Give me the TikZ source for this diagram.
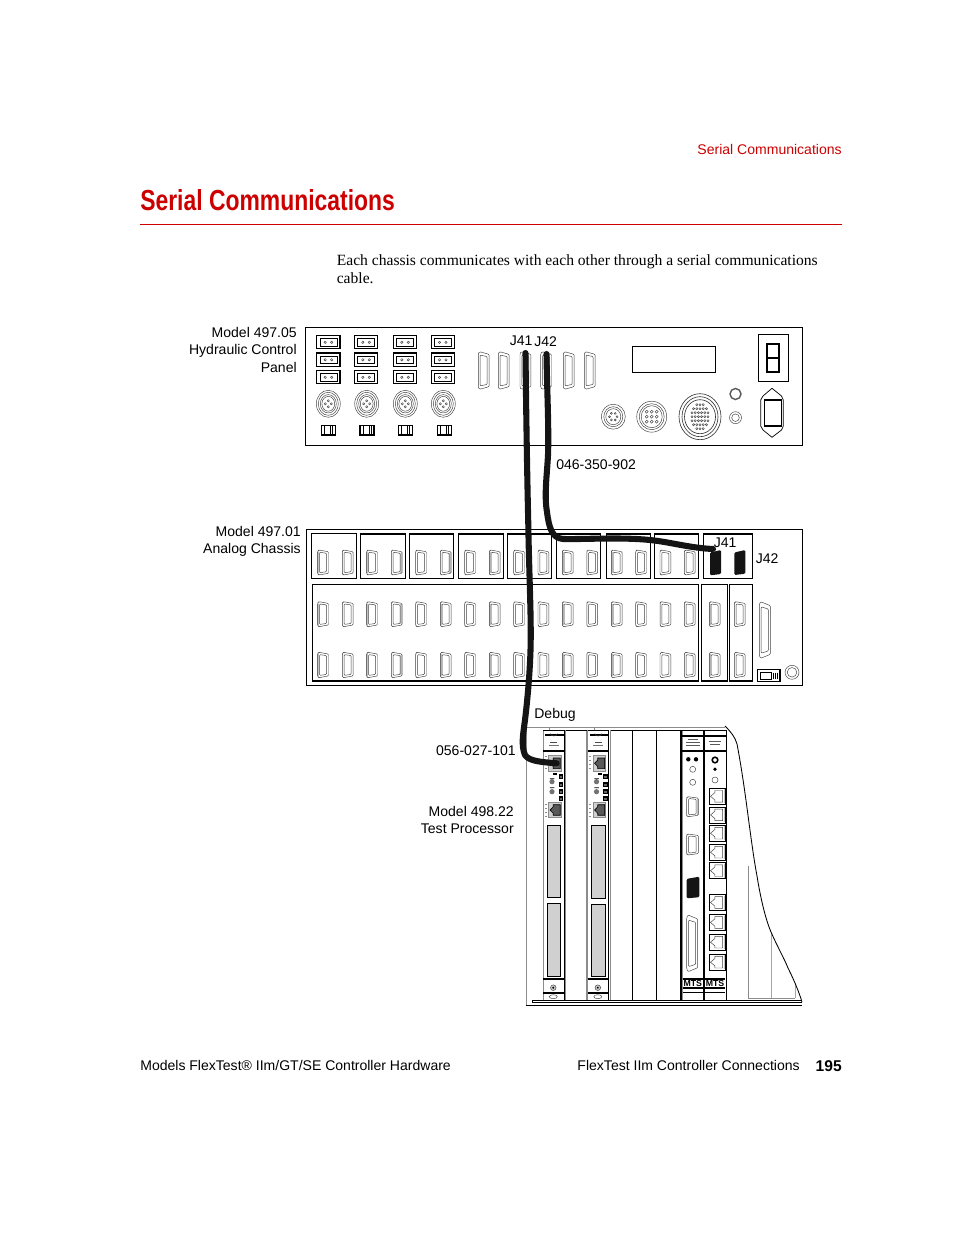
\documentclass[tikz,border=0pt]{standalone}
\usepackage{fontspec}
\setmainfont{Liberation Sans}
\newfontfamily\bodyfont{Liberation Serif}
\newfontfamily\titlefont[FakeStretch=0.79]{Liberation Sans}
\definecolor{mtsred}{HTML}{CC0000}
\definecolor{lg}{HTML}{C4C4C4}
\definecolor{pg}{HTML}{D0D0D0}
\tikzset{
  lab/.style={inner sep=0pt,font=\fontsize{9}{10.5}\selectfont},
  labr/.style={lab,anchor=base east},
  labl/.style={lab,anchor=base west},
  box/.style={draw=black,line width=0.65pt},
  thin box/.style={draw=black,line width=0.45pt},
  fine/.style={draw=black!75,line width=0.3pt},
  cable/.style={draw=black!92,line width=3.9pt,line cap=round,line join=round},
  bar/.style={draw=black,line width=1.2pt},
  edge gray/.style={draw=black!45,line width=0.5pt}
}
% D-sub connector: x y w h shade(0 none,1 left,2 right) fill
\newcommand{\dsubc}[5]{%
\begin{scope}[shift={(#1,#2)},xscale=#3,yscale=#4]
\ifnum#5=1 \draw[lg,line width=1.1pt] (0.04,0.08)--(0.04,0.92);\fi
\ifnum#5=2 \draw[lg,line width=1.1pt] (0.92,0.1)--(0.92,0.9);\fi
\draw[fine,rounded corners=0.6pt] (0,0.05)--(0.12,0)--(1,0.07)--(1,0.93)--(0.12,1)--(0,0.95)--cycle;
\draw[fine,rounded corners=0.6pt] (0.17,0.09)--(0.82,0.13)--(0.82,0.87)--(0.17,0.91)--cycle;
\end{scope}}
\newcommand{\dsubblack}[4]{%
\begin{scope}[shift={(#1,#2)},xscale=#3,yscale=#4]
\fill[black!92,rounded corners=0.8pt] (0,0.1)--(1,0)--(1,0.95)--(0,1)--cycle;
\end{scope}}
% terminal block
\newcommand{\termb}[2]{%
\begin{scope}[shift={(#1,#2)}]
\draw[box] (0,0) rectangle (23.3,13.3);
\draw[thin box] (3.3,3) rectangle (20.3,10.7);
\draw[fine] (8.5,6.8) circle (1.2) (15,6.8) circle (1.2);
\end{scope}}
% round connector
\newcommand{\roundc}[2]{%
\begin{scope}[shift={(#1,#2)}]
\draw[fine] (0,0) ellipse (12 and 13.5);
\draw[fine] (0,0) ellipse (10 and 11.5);
\draw[fine] (0,0) ellipse (8 and 9.2);
\draw[fine] (0,0) ellipse (6.4 and 7.4);
\foreach \a in {0,90,180,270} \draw[fine] (\a:3) circle (1.1);
\end{scope}}
% small switch
\newcommand{\swc}[2]{%
\begin{scope}[shift={(#1,#2)}]
\draw[draw=black,line width=0.9pt] (0,0) rectangle (14,9.5);
\draw[thin box] (3.3,0) -- (3.3,9.5) (9,0)--(9,9.5) (11.3,0)--(11.3,9.5);
\end{scope}}
% jack in the right-hand module
\newcommand{\rjbox}[3]{%
\begin{scope}[shift={(#1,#2)},yscale=#3]
\draw[lg,line width=1.2pt] (15.2,1)--(15.2,15);
\draw[thin box] (0,0) rectangle (15.7,16);
\draw[fine] (13.4,2.2)--(5.5,2.2)--(5.5,4.4)--(1.2,8)--(5.5,11.6)--(5.5,13.8)--(13.4,13.8)--cycle;
\end{scope}}
% gray jack in processors
\newcommand{\rjgray}[2]{%
\begin{scope}[shift={(#1,#2)}]
\fill[black!45] (0,0) rectangle (13.4,16.6);
\fill[pg] (1,1) rectangle (12.4,15.6);
\draw[fill=black!65,draw=black,line width=0.4pt] (12,3)--(5,3)--(5,5)--(1.8,8.3)--(5,11.6)--(5,13.6)--(12,13.6)--cycle;
\end{scope}}
% processor module
\newcommand{\procm}[2]{%
\begin{scope}[shift={(#1,0)}]
\draw[edge gray] (0,730)--(0,1000);
\draw[draw=black,line width=0.75pt] (21,730)--(21,1000);
\draw[draw=black,line width=0.5pt] (0,730)--(21,730);
\draw[bar] (2,735.3)--(21,735.3);
\draw[fine] (7,733.5) arc (180:0:3.5 and 2.5);
\draw[line width=0.55pt,black!70] (7,742.5)--(14,742.5);
\draw[line width=0.4pt,black!55] (5.5,745.5)--(15.5,745.5);
\draw[bar] (0,751.3)--(21,751.3);
\rjgray{5}{755}
\rjgray{5}{801.7}
\fill[black] (10,773.3) rectangle (14,774.6);
\fill[black!55] (8.7,781.7) circle (2.6) (8.7,791.7) circle (2.6);
\fill[black] (6.5,778.3) rectangle (11,779.2) (6.5,787.3) rectangle (11,788.1);
\foreach \yy in {775,783,790,797} \draw[draw=black,fill=black!60,line width=0.7pt] (16,\yy) rectangle (19.5,\yy+3.5);
\foreach \yy in {756,760,764,768,804,808,812,816} \draw[black!45,line width=0.4pt] (1.6,\yy)--(3.4,\yy);
\draw[thin box,fill=pg] (4,825.7) rectangle (17.5,#2);
\draw[thin box,fill=pg] (4,#2+6) rectangle (17.5,976);
\draw[draw=black,line width=1.5pt] (0,978.7)--(21,978.7);
\draw[bar] (0,993)--(21,993);
\draw[fine,fill=black!20] (10,987.7) circle (2.8);
\fill[black] (10,987.7) circle (1.1);
\draw[fine] (10,996.7) ellipse (4 and 2);
\end{scope}}
\newcommand{\mtsbadge}[2]{%
\draw[bar,line width=1.5pt] (#1,978.7)--(#1+20,978.7);
\draw[bar,line width=1.5pt] (#1,987.7)--(#1+20,987.7);
\node[inner sep=0pt,font=\fontsize{5.6}{6}\selectfont\bfseries] (#2) at (#1+10,983.2) {MTS};
\draw[thin box] (#1,992.5)--(#1+20,992.5);}
\begin{document}
\begin{tikzpicture}[x=0.64151pt,y=-0.64151pt]
\useasboundingbox (0,0) rectangle (954,1235);
% header
\node[labr,text=mtsred] (hdr) at (842,155) {Serial Communications};
\node[anchor=base west,inner sep=0pt,text=mtsred,font=\titlefont\fontsize{18.6}{20}\selectfont\bfseries] (title) at (140,211) {Serial Communications};
\coordinate (ruleL) at (140,224.5);
\coordinate (ruleR) at (842,224.5);
\draw[mtsred,line width=0.6pt] (ruleL)--(ruleR);
\node[anchor=base west,inner sep=0pt,font=\bodyfont\fontsize{10}{11}\selectfont] (body1) at (336.5,266) {Each chassis communicates with each other through a serial communications};
\node[anchor=base west,inner sep=0pt,font=\bodyfont\fontsize{10}{11}\selectfont] (body2) at (336.5,284) {cable.};
% ---------- hydraulic control panel
\node[labr] (m1a) at (297,337.5) {Model 497.05};
\node[labr] (m1b) at (297,354.5) {Hydraulic Control};
\node[labr] (m1c) at (297,372.5) {Panel};
\draw[box] (305.5,327.5) rectangle (802.5,445.5);
\foreach \xx in {316.7,354.3,393.3,431} \foreach \yy in {335.5,353,370.5} \termb{\xx}{\yy};
\foreach \xx in {328.3,366.7,405.3,443.3} \roundc{\xx}{403.8};
\foreach \xx in {321.5,360,398.5,437.5} \swc{\xx}{425.5};
\foreach \xx in {478.3,498.3,520,540.7,563.3,584.3} \dsubc{\xx}{351.7}{10.8}{37.6}{0};
\draw[box] (632.3,346.7) rectangle (715.7,372.3);
\draw[box] (758.3,334.5) rectangle (788.7,381.7);
\draw[draw=black,line width=1.1pt] (767.3,344) rectangle (778.7,372.3) (767.3,358.3)--(778.7,358.3);
\draw[draw=black!65,line width=0.9pt] (735.5,394) circle (5.5);
\draw[fine] (735.5,417.7) circle (6) (735.5,417.7) circle (3.8);
% power inlet
\draw[thin box] (772,388.3)--(781.5,396)--(783.3,400)--(783.3,426)--(781.5,430)--(772,437.3)--(763,430)--(760.7,426)--(760.7,400)--(763,396)--cycle;
\draw[box] (764.3,400) rectangle (781.7,426);
% large connectors
\draw[fine] (613.3,416.7) ellipse (12 and 12.5) (613.3,416.7) ellipse (9.5 and 10) (613.3,416.7) ellipse (7.5 and 8);
\foreach \a in {0,60,...,300} \draw[fine] (613.3,416.7) ++(\a:3.8) circle (1);
\draw[fine] (651.7,416.7) ellipse (15 and 15.5) (651.7,416.7) ellipse (12.5 and 13) (651.7,416.7) ellipse (10.5 and 11);
\foreach \dx in {-5,0,5} \foreach \dy in {-5,0,5} \draw[fine] (651.7+\dx,416.7+\dy) circle (1.5);
\draw[draw=black!80,line width=0.4pt] (700,416.7) ellipse (21 and 23) (700,416.7) ellipse (18 and 20) (700,416.7) ellipse (15.5 and 17);
\foreach \dy/\n in {-12/3,-8/5,-4/6,0/6,4/6,8/5,12/3} {
  \foreach \i in {1,...,\n} \draw[fine] (700+3.2*\i-1.6*\n-1.6,416.7+\dy) circle (1.1);}
% ---------- analog chassis
\node[labr] (m2a) at (301,536.5) {Model 497.01};
\node[labr] (m2b) at (301,553.5) {Analog Chassis};
\draw[box] (306.7,529.5) rectangle (802,685.4);
\foreach \a/\b/\c in {311.3/356.7/533.3,360.3/405.3/534,409.3/453.7/534,458.3/503.3/534,507.3/551.7/534,556.7/600.7/534,606.3/650.7/534,654.3/698.7/534,703.3/752.7/534}
  \draw[box] (\a,\c) rectangle (\b,578.5);
\draw[box] (312.3,584.5) rectangle (698.7,681);
\draw[box] (701.3,584.5) rectangle (727.3,681);
\draw[box] (729.3,584.5) rectangle (752.7,681);
\foreach \xx/\sa/\sb/\sc in {317.7/1/1/1,342.3/0/0/0,366.7/1/1/1,391.3/2/2/2,415.7/0/0/0,440.3/2/1/1,464.7/0/0/0,489.3/1/1/1,513.7/0/0/0,538/0/0/0,562.3/1/1/1,586.8/0/0/0,611.3/1/1/1,635.7/0/0/0,660/0/1/0,684.3/0/0/0}{
  \dsubc{\xx}{550}{10.8}{25}{\sa}
  \dsubc{\xx}{601.7}{10.8}{25}{\sb}
  \dsubc{\xx}{652.3}{10.8}{25.4}{\sc}
}
\dsubc{709.3}{601.7}{10.8}{25}{1}
\dsubc{709.3}{652.3}{10.8}{25.4}{1}
\dsubc{734.3}{601.7}{10.8}{25}{0}
\dsubc{734.3}{652.3}{10.8}{25.4}{0}
\dsubc{759.3}{601.7}{11}{56.6}{0}
\draw[draw=black,line width=0.9pt] (757.5,669.5) rectangle (780,681.5);
\draw[thin box] (760.5,672.5) rectangle (771.5,679) (773.3,672.5)--(773.3,679) (775.3,672.5)--(775.3,679) (777.3,672.5)--(777.3,679);
\draw[fine] (792,672.3) circle (7) (792,672.3) circle (4.8);
\dsubblack{710}{550}{11}{25.3}
\dsubblack{734.3}{550}{11}{25}
% ---------- test processor
\node[labr] (m3a) at (514,816.5) {Model 498.22};
\node[labr] (m3b) at (514,833.5) {Test Processor};
\draw[edge gray] (526.3,727)--(725,727);
\draw[edge gray] (526.3,727)--(526.3,1005);
\draw[draw=black,line width=0.5pt] (526.3,1005.3)--(802,1005.3);
\draw[draw=black,line width=0.5pt] (532.3,1000.3)--(802,1000.3) (532.3,1002.7)--(802,1002.7) (532.3,1000.3)--(532.3,1002.7);
\draw[edge gray] (549,727)--(549,730) (594,727)--(594,730);
\procm{543.3}{897.3}
\procm{587.8}{898.3}
\draw[edge gray] (565.5,730)--(565.5,1000);
\draw[edge gray] (586.7,730)--(586.7,1000);
\draw[draw=black,line width=0.5pt] (565.5,730)--(586.7,730);
\draw[edge gray] (610.7,730)--(610.7,1000);
\draw[draw=black,line width=0.5pt] (610.7,730)--(680.5,730);
\draw[draw=black,line width=1.1pt] (632.5,730)--(632.5,1000) (656.5,730)--(656.5,1000) (680.8,730)--(680.8,1000);
% right modules
\draw[edge gray] (682.3,730)--(682.3,1000);
\draw[draw=black,line width=1.2pt] (703.8,730)--(703.8,1000);
\draw[draw=black,line width=0.9pt] (726.3,730)--(726.3,1000);
\draw[draw=black,line width=0.5pt] (682.3,730)--(726.3,730);
\draw[bar] (682.3,736)--(703,736) (704.5,736)--(726,736) (682.3,750.7)--(726,750.7);
\draw[line width=0.45pt,black!65] (688,739)--(698,739) (686,742)--(700,742) (686,745)--(700,745) (709,741.5)--(721,741.5) (710,744.5)--(720,744.5);
\fill[black] (688.3,759.3) circle (2.2) (696,759.3) circle (2.2);
\draw[fine] (692.7,769.3) circle (3) (692.7,782.3) circle (3);
\dsubc{686.7}{796.7}{11.6}{20}{2}
\dsubc{686.7}{834}{11.6}{21}{0}
\dsubblack{686.7}{876.7}{12.6}{21.6}
\dsubc{686.7}{915}{11}{56.7}{0}
\draw[draw=black,line width=1pt] (715,760) circle (2.8);
\fill[black] (715,769.3) circle (1.9);
\draw[fine] (715,780) circle (3);
\foreach \yy in {788.3,806.9,825.2,844.2,862.7,894.5,914.5,934.2,954.2} \rjbox{709.3}{\yy}{1};
\mtsbadge{682.8}{mtsa}
\mtsbadge{705}{mtsb}
% enclosure side profile
\draw[edge gray] (748.3,866)--(748.3,998.3)--(795,998.3);
\draw[draw=black!35,line width=0.5pt] (771.7,933)--(771.7,998.3);
\draw[draw=black!35,line width=0.5pt] (795,985)--(795,998.3);
\draw[draw=black,line width=0.55pt] (725,726) .. controls (731,732) and (735,737) .. (737,744)
  .. controls (742,770) and (746,800) .. (749,823)
  .. controls (752,845) and (754,860) .. (757,876)
  .. controls (760,895) and (765,918) .. (771,932)
  .. controls (778,948) and (784,958) .. (788,968)
  .. controls (794,980) and (799,992) .. (802,1002);
% ---------- cables
\coordinate (j41p) at (525.5,353);
\coordinate (j41t) at (556.7,763.3);
\coordinate (j42p) at (546.5,354);
\coordinate (j42c) at (713,549);
\draw[cable] (j41p) .. controls (526,400) and (527,470) .. (528.3,525)
  .. controls (529,570) and (531,610) .. (530.7,640)
  .. controls (530.5,665) and (528,695) .. (525,720)
  .. controls (523,735) and (521,745) .. (525,755)
  .. controls (529,761) and (540,762) .. (j41t);
\draw[cable] (j42p) .. controls (547,390) and (549,430) .. (548,455)
  .. controls (547,475) and (544,495) .. (547,512)
  .. controls (549,528) and (552,538) .. (563,539)
  .. controls (585,539.5) and (620,537) .. (650,540)
  .. controls (670,542) and (690,548) .. (j42c);
% ---------- labels
\node[labl] (j41a) at (509.5,345.5) {J41};
\node[labl] (j42a) at (534,346.5) {J42};
\node[labl] (j41b) at (713.5,547.5) {J41};
\node[labl] (j42b) at (755.5,563.5) {J42};
\node[labl] (c1) at (556,469.5) {046-350-902};
\node[labl] (dbg) at (534,718.5) {Debug};
\node[labr] (c2) at (516,755.5) {056-027-101};
% footer
\node[labl] (ftl) at (140,1070) {Models FlexTest® IIm/GT/SE Controller Hardware};
\node[labr] (ftr) at (800,1070) {FlexTest IIm Controller Connections};
\node[anchor=base east,inner sep=0pt,font=\fontsize{10}{12}\selectfont\bfseries] (pg) at (842,1071) {195};
\end{tikzpicture}
\end{document}
